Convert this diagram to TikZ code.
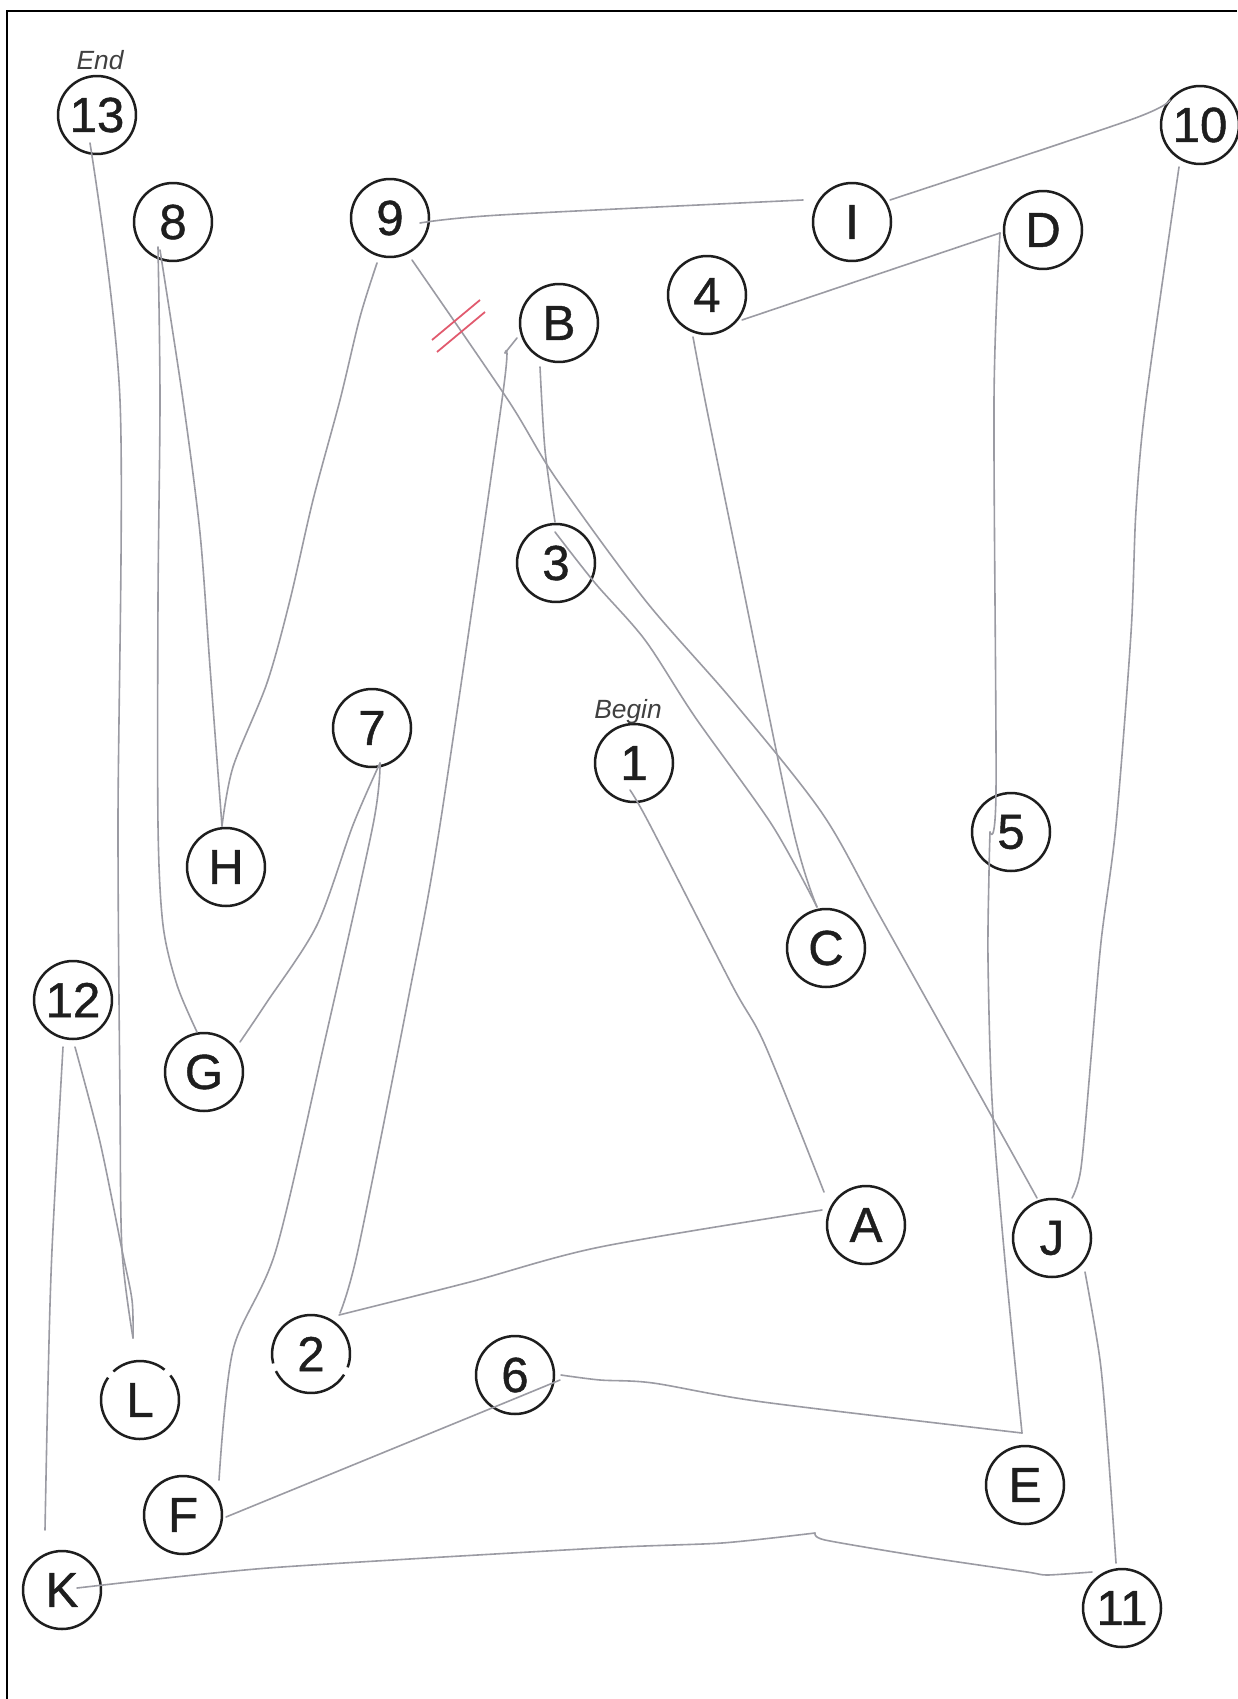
\documentclass[tikz,border=0pt]{standalone}
\usepackage{fontspec}
\setmainfont{Liberation Sans}
\newfontfamily\circfont[FakeBold=0.9]{Liberation Sans}
\usetikzlibrary{calc}
\definecolor{pencil}{RGB}{155,155,163}
\definecolor{ink}{RGB}{30,30,30}
\definecolor{redpen}{RGB}{225,90,110}
\begin{document}
\begin{tikzpicture}[x=0.02cm,y=-0.02cm,
  tmt/.style={circle,draw=ink,line width=0.05cm,minimum size=1.56cm,inner sep=0pt,
    text=ink,font=\circfont\fontsize{28}{28}\selectfont},
  tmtopen/.style={tmt,draw=none},
  ring/.style={draw=ink,line width=0.05cm},
  lbl/.style={text=black!75,font=\fontsize{15}{15}\selectfont\itshape,inner sep=0pt},
  trail/.style={draw=pencil,line width=0.032cm,line join=round,line cap=round},
  errmark/.style={draw=redpen,line width=0.035cm},
  frame/.style={draw=black,line width=0.045cm}]
\useasboundingbox (0,0) rectangle (1237,1699);
\fill[white] (0,0) rectangle (1237,1699);
% frame (left and top edges of the scan)
\coordinate (fb) at (7,1699);
\coordinate (fc) at (7,11);
\coordinate (fr) at (1237,11);
\draw[frame] (fb) -- (fc) -- (fr);

% circles
\node[tmt] (n13) at (97,115) {13};
\node[tmt] (n8) at (173,222) {8};
\node[tmt] (n9) at (390,218) {9};
\node[tmt] (nI) at (852,222) {I};
\node[tmt] (n10) at (1200,125) {10};
\node[tmt] (nD) at (1043,230) {D};
\node[tmt] (n4) at (707,295) {4};
\node[tmt] (nB) at (559,323) {B};
\node[tmt] (n3) at (556,563) {3};
\node[tmt] (n7) at (372,728) {7};
\node[tmt] (n1) at (634,763) {1};
\node[tmt] (n5) at (1011,832) {5};
\node[tmt] (nH) at (226,867) {H};
\node[tmt] (nC) at (826,948) {C};
\node[tmt] (n12) at (73,1000) {12};
\node[tmt] (nG) at (204,1072) {G};
\node[tmt] (nA) at (866,1225) {A};
\node[tmt] (nJ) at (1052,1238) {J};
\node[tmtopen] (n2) at (311,1354) {2};
\node[tmtopen] (nL) at (140,1400) {L};
\node[tmt] (n6) at (515,1375) {6};
\node[tmt] (nE) at (1025,1485) {E};
\node[tmt] (nF) at (183,1515) {F};
\node[tmt] (nK) at (62,1590) {K};
\node[tmt] (n11) at (1122,1608) {11};

% broken rings of 2 and L
\draw[ring] ($(nL)+(51:0.78cm)$) arc[start angle=51,end angle=133,radius=0.78cm];
\draw[ring] ($(nL)+(145:0.78cm)$) arc[start angle=145,end angle=399,radius=0.78cm];
\draw[ring] ($(n2)+(206:0.78cm)$) arc[start angle=206,end angle=328,radius=0.78cm];
\draw[ring] ($(n2)+(340:0.78cm)$) arc[start angle=340,end angle=554,radius=0.78cm];

% labels
\node[lbl,anchor=base] (lend) at (100,70) {End};
\node[lbl,anchor=base] (lbegin) at (628,718) {Begin};

% trail
\draw[trail] plot[smooth,tension=0.5] coordinates {($(n1)+(-4,27)$) (650,825) (732,985) (765,1045) ($(nA)+(-42,-33)$)};
\draw[trail] plot[smooth,tension=0.5] coordinates {($(n2)+(28,-39)$) (470,1282) (600,1247) ($(nA)+(-44,-15)$)};
\draw[trail] plot[smooth,tension=0.5] coordinates {($(n2)+(29,-41)$) (358,1250) (408,1000) (440,825) (502,400) (505,353)};
\draw[trail] (505,353) -- ($(nB)+(-42,15)$);
\draw[trail] plot[smooth,tension=0.5] coordinates {($(nB)+(-19,44)$) (545,450) ($(n3)+(-1,-41)$)};
\draw[trail] plot[smooth,tension=0.5] coordinates {($(n3)+(-1,-31)$) (595,583) (645,640) (695,717) (772,825) ($(nC)+(-9,-41)$)};
\draw[trail] plot[smooth,tension=0.5] coordinates {($(nC)+(-9,-41)$) (792,825) (732,533) (705,400) ($(n4)+(-14,42)$)};
\draw[trail] ($(n4)+(35,25)$) -- ($(nD)+(-43,3)$);
\draw[trail] plot[smooth,tension=0.5] coordinates {($(nD)+(-43,3)$) (994,400) (996,790) ($(n5)+(-21,0)$)};
\draw[trail] plot[smooth,tension=0.5] coordinates {($(n5)+(-21,0)$) (989,872) (988,960) (992,1100) (1004,1250) ($(nE)+(-3,-52)$)};
\draw[trail] plot[smooth,tension=0.5] coordinates {($(nE)+(-3,-52)$) (763,1402) (653,1383) (600,1380) ($(n6)+(46,0)$)};
\draw[trail] plot[smooth,tension=0.5] coordinates {($(n6)+(45,5)$) (492,1408) ($(nF)+(43,2)$)};
\draw[trail] plot[smooth,tension=0.5] coordinates {($(nF)+(36,-35)$) (233,1350) (276,1250) (325,1040) (373,825) ($(n7)+(8,35)$)};
\draw[trail] plot[smooth,tension=0.5] coordinates {($(n7)+(8,35)$) (353,825) (317,925) (267,1002) ($(nG)+(36,-30)$)};
\draw[trail] plot[smooth,tension=0.5] coordinates {($(nG)+(-7,-40)$) (177,985) (163,925) (158,825) (158,600) (160,400) ($(n8)+(-15,25)$)};
\draw[trail] plot[smooth,tension=0.5] coordinates {($(n8)+(-13,28)$) (183,400) (200,533) (210,667) ($(nH)+(-4,-41)$)};
\draw[trail] plot[smooth,tension=0.5] coordinates {($(nH)+(-4,-41)$) (233,767) (267,683) (290,600) (313,500) (340,400) (360,317) ($(n9)+(-13,45)$)};
\draw[trail] plot[smooth,tension=0.5] coordinates {($(n9)+(30,5)$) (500,215) ($(nI)+(-49,-22)$)};
\draw[trail] plot[smooth,tension=0.5] coordinates {($(nI)+(38,-22)$) (1130,120) ($(n10)+(-30,-25)$)};
\draw[trail] plot[smooth,tension=0.5] coordinates {($(n10)+(-21,42)$) (1146,400) (1136,510) (1131,633) (1116,825) (1101,942) (1091,1058) (1081,1168) ($(nJ)+(20,-40)$)};
\draw[trail] plot[smooth,tension=0.5] coordinates {($(n9)+(22,42)$) (508,400) (555,477) (645,600) (732,700) (822,813) (881,918) (991,1115) ($(nJ)+(-15,-40)$)};
\draw[trail] plot[smooth,tension=0.5] coordinates {($(nJ)+(33,34)$) (1100,1360) (1108,1450) ($(n11)+(-6,-45)$)};
\draw[trail] plot[smooth,tension=0.4] coordinates {($(n11)+(-30,-36)$) (1047,1575) (1027,1572) (925,1557) (825,1540) (815,1533)};
\draw[trail] plot[smooth,tension=0.4] coordinates {(815,1533) (722,1543) (600,1548) (268,1568) ($(nK)+(15,-2)$)};
\draw[trail] plot[smooth,tension=0.5] coordinates {($(nK)+(-17,-60)$) (48,1383) (52,1250) ($(n12)+(-10,47)$)};
\draw[trail] plot[smooth,tension=0.5] coordinates {($(n12)+(2,47)$) (100,1142) (122,1250) (132,1300) ($(nL)+(-7,-62)$)};
\draw[trail] plot[smooth,tension=0.5] coordinates {($(nL)+(-7,-62)$) (122,1250) (120,1100) (118,825) (120,400) ($(n13)+(-7,28)$)};

% red error mark on the 9--J line
\coordinate (r1a) at (432,340);
\coordinate (r1b) at (480,300);
\coordinate (r2a) at (437,352);
\coordinate (r2b) at (485,312);
\draw[errmark] (r1a) -- (r1b);
\draw[errmark] (r2a) -- (r2b);
\end{tikzpicture}
\end{document}
